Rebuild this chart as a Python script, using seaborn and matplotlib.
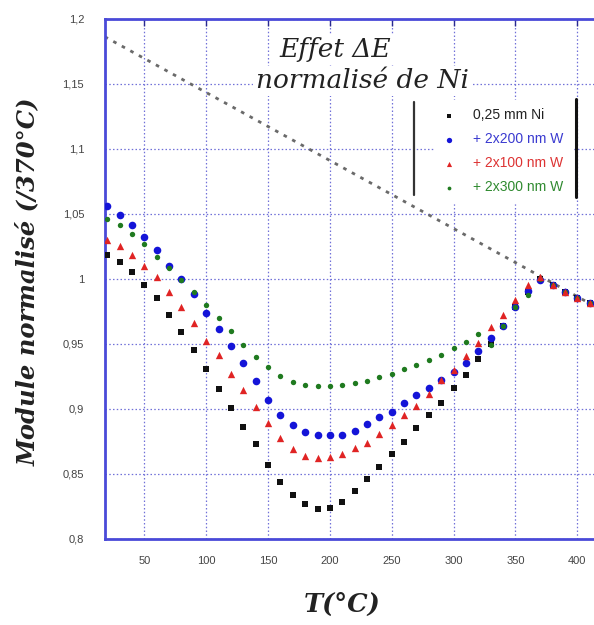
import numpy as np
import pandas as pd
import matplotlib
matplotlib.use("Agg")
import matplotlib.pyplot as plt
from matplotlib.lines import Line2D
import seaborn as sns

# ---------------- data ----------------
temps = [20, 30, 40, 50, 60, 70, 80, 90, 100, 110, 120, 130, 140, 150, 160, 170, 180, 190,
         200, 210, 220, 230, 240, 250, 260, 270, 280, 290, 300, 310, 320, 330, 340, 350,
         360, 370, 380, 390, 400, 410]

ni_025 = [1.018, 1.0125, 1.005, 0.995, 0.985, 0.972, 0.959, 0.945, 0.9305, 0.915, 0.9005,
          0.886, 0.873, 0.857, 0.8436, 0.834, 0.827, 0.823, 0.824, 0.8287, 0.837, 0.846,
          0.8556, 0.865, 0.8746, 0.885, 0.895, 0.9046, 0.9157, 0.926, 0.938, 0.950, 0.9636,
          0.978, 0.990, 1.0, 0.995, 0.990, 0.985, 0.9815]

w_200 = [1.0557, 1.049, 1.041, 1.032, 1.022, 1.010, 1.0, 0.988, 0.974, 0.961, 0.948,
         0.9356, 0.9218, 0.907, 0.8954, 0.8877, 0.8825, 0.8797, 0.8797, 0.880, 0.8833,
         0.888, 0.8934, 0.8977, 0.9046, 0.9105, 0.9162, 0.922, 0.9285, 0.9354, 0.9444,
         0.9542, 0.9636, 0.978, 0.9908, 0.999, 0.995, 0.990, 0.985, 0.9815]

w_100 = [1.0295, 1.0254, 1.018, 1.0095, 1.001, 0.9895, 0.978, 0.966, 0.952, 0.9415, 0.927,
         0.9146, 0.9018, 0.8895, 0.8775, 0.869, 0.8638, 0.862, 0.8633, 0.8654, 0.8698,
         0.8736, 0.8805, 0.8875, 0.8952, 0.9021, 0.9118, 0.9221, 0.9298, 0.9405, 0.9508,
         0.9626, 0.972, 0.984, 0.9952, 1.001, 0.995, 0.990, 0.985, 0.9815]

w_300 = [1.046, 1.041, 1.0346, 1.0267, 1.017, 1.008, 0.999, 0.990, 0.980, 0.9698, 0.9595,
         0.949, 0.940, 0.932, 0.9254, 0.921, 0.9185, 0.9172, 0.9177, 0.9185, 0.9198, 0.9218,
         0.9246, 0.9267, 0.9303, 0.9336, 0.9375, 0.9413, 0.9465, 0.9515, 0.9575, 0.949,
         0.9636, 0.978, 0.9875, 1.0, 0.995, 0.990, 0.985, 0.9815]

# extrapolated linear trend (dashed line)
trend_t = [18, 414]
trend_v = [1.186, 0.979]

series_labels = ["0,25 mm Ni", "+ 2x200 nm W", "+ 2x100 nm W", "+ 2x300 nm W"]
x_ticks = [50, 100, 150, 200, 250, 300, 350, 400]
x_ticklabels = ["50", "100", "150", "200", "250", "300", "350", "400"]
y_ticks = [0.8, 0.85, 0.9, 0.95, 1.0, 1.05, 1.1, 1.15, 1.2]
y_ticklabels = ["0,8", "0,85", "0,9", "0,95", "1", "1,05", "1,1", "1,15", "1,2"]
title_line1 = "Effet ΔE"
title_line2 = "normalisé de Ni"
y_label = "Module normalisé (/370°C)"
x_label = "T(°C)"

# ---------------- figure ----------------
sns.set_style("white")
plt.rcParams["font.family"] = ["Liberation Sans", "DejaVu Sans"]

W, H = 594, 625
fig = plt.figure(figsize=(W / 100, H / 100), dpi=100)
ax = fig.add_axes([105 / W, 1 - 539 / H, (W - 105) / W + 0.002, (539 - 18.5) / H])
ax.set_xlim(18.2, 414.5)
ax.set_ylim(0.8, 1.2)

spine_col = "#4a4ad8"
grid_col = "#7070d8"
for s in ["left", "bottom", "top"]:
    ax.spines[s].set_color(spine_col)
    ax.spines[s].set_linewidth(2)
ax.spines["right"].set_visible(False)

ax.set_xticks(x_ticks)
ax.set_xticklabels(x_ticklabels)
ax.set_yticks(y_ticks)
ax.set_yticklabels(y_ticklabels)
ax.tick_params(axis="both", direction="in", length=5, width=1, color="#2a2a90",
               labelsize=8, labelcolor="#444444", top=True)
ax.tick_params(axis="y", pad=15)
ax.tick_params(axis="x", pad=12)
ax.grid(True, color=grid_col, linestyle=(0, (1.2, 1.8)), linewidth=0.9)
ax.set_axisbelow(True)

# trend line
sns.lineplot(x=trend_t, y=trend_v, ax=ax, color="#6a6a6a", linewidth=2.0,
             linestyle=(0, (1.3, 2.2)), zorder=2)

c_black, c_blue, c_red, c_green = "#111111", "#1414d8", "#e02424", "#1f7a1f"
sns.scatterplot(x=temps, y=ni_025, ax=ax, marker="s", s=24, color=c_black,
                linewidth=0, label=series_labels[0], zorder=3)
sns.scatterplot(x=temps, y=w_200, ax=ax, marker="o", s=30, color=c_blue,
                linewidth=0, label=series_labels[1], zorder=4)
sns.scatterplot(x=temps, y=w_300, ax=ax, marker="o", s=15, color=c_green,
                linewidth=0, label=series_labels[3], zorder=5)
sns.scatterplot(x=temps, y=w_100, ax=ax, marker="^", s=28, color=c_red,
                linewidth=0, label=series_labels[2], zorder=6)

handles, labels = ax.get_legend_handles_labels()
order = [labels.index(l) for l in series_labels]
leg = ax.legend([handles[i] for i in order], [labels[i] for i in order],
                loc="upper left", bbox_to_anchor=(428 / W, 1 - 93 / H),
                bbox_transform=fig.transFigure, fontsize=10, frameon=True,
                facecolor="white", edgecolor="white", framealpha=1,
                handlelength=0.85, handletextpad=1.3, labelspacing=0.72,
                borderpad=0.6, markerscale=0.7,
                labelcolor=["#222222", "#3a3ad0", "#dd3333", "#2f8a2f"])
leg.set_zorder(10)

# legend side bars
fig.add_artist(Line2D([414 / W, 414 / W], [1 - 102 / H, 1 - 195 / H], color="#333333",
                      linewidth=1.6, transform=fig.transFigure))
fig.add_artist(Line2D([576 / W, 576 / W], [1 - 99 / H, 1 - 197 / H], color="#111111",
                      linewidth=2.2, transform=fig.transFigure))

# title inside plot
bbox = dict(facecolor="white", edgecolor="none", pad=2)
fig.text(335 / W, 1 - 50 / H, title_line1, ha="center", va="center", fontsize=19,
         family="DejaVu Serif", style="italic", color="#222222", bbox=bbox, zorder=10)
fig.text(362 / W, 1 - 81 / H, title_line2, ha="center", va="center", fontsize=19,
         family="DejaVu Serif", style="italic", color="#222222", bbox=bbox, zorder=10)

# axis labels
fig.text(28 / W, 1 - 282 / H, y_label, rotation=90, ha="center", va="center",
         fontsize=17.5, family="DejaVu Serif", style="italic", weight="bold", color="#222222")
fig.text(342 / W, 1 - 604 / H, x_label, ha="center", va="center",
         fontsize=18.5, family="DejaVu Serif", style="italic", weight="bold", color="#222222")

fig.savefig("out.png", dpi=100, facecolor="white")
